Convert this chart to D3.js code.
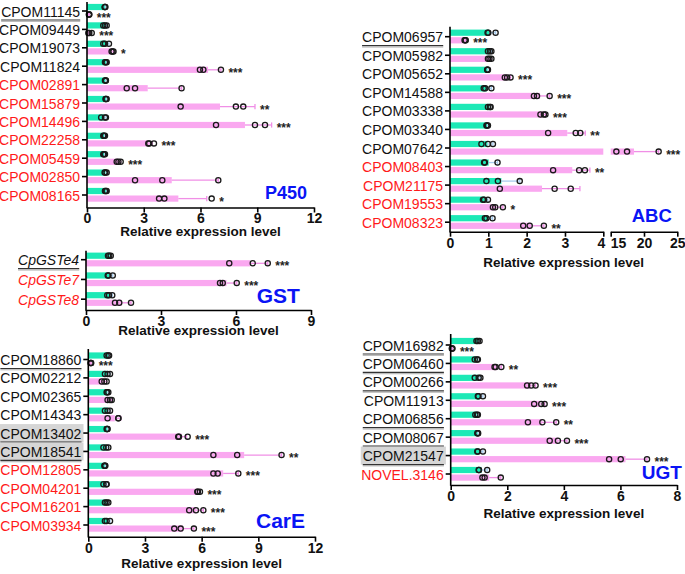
<!DOCTYPE html>
<html><head><meta charset="utf-8">
<script src="https://cdn.jsdelivr.net/npm/d3@7"></script>
<style>body{margin:0;background:#fff} text{font-family:Arial,"Liberation Sans",sans-serif}</style>
</head><body><svg id="c" width="685" height="574"></svg>
<script>
// ---------------- DATA ----------------
// P450
const p450Genes = ["CPOM11145","CPOM09449","CPOM19073","CPOM11824","CPOM02891","CPOM15879","CPOM14496","CPOM22258","CPOM05459","CPOM02850","CPOM08165"];
const p450Ctrl = [0.96,0.95,0.99,1.0,0.98,1.0,0.9,0.9,0.9,0.98,1.0];
const p450CtrlPts = [[0.93,0.95,0.97],[0.86,0.95,1.04],[0.86,0.95,1.16],[0.95,1.0,1.04],[0.95,0.99,1.0],[0.98,1.0,1.04],[0.75,0.95,1.0],[0.86,0.9,0.95],[0.86,0.9,0.95],[0.93,0.97,1.04],[0.95,1.0,1.04]];
const p450Trt = [0.11,0.15,1.35,6.4,3.21,7.03,8.35,3.3,1.67,4.48,4.83];
const p450TrtPts = [[0.1,0.11,0.12],[0.07,0.12,0.25],[1.3,1.35,1.4],[5.97,6.15,7.08],[2.1,2.54,5.0],[4.95,7.87,8.26],[6.82,8.88,9.41],[3.24,3.29,3.54],[1.57,1.66,1.78],[2.54,3.98,6.94],[3.81,4.09,6.59]];
const p450TrtErr = [0.12,0.2,1.4,7.08,5.0,8.88,9.76,3.45,1.78,6.94,6.33];
const p450Sig = ["***","***","*","***","","**","***","***","***","","*"];

// ABC
const abcGenes = ["CPOM06957","CPOM05982","CPOM05652","CPOM14588","CPOM03338","CPOM03340","CPOM07642","CPOM08403","CPOM21175","CPOM19553","CPOM08323"];
const abcCtrl = [1.02,1.03,0.98,0.96,1.03,0.97,0.98,1.01,1.34,0.91,0.99];
const abcCtrlErr = [1.19,1.08,0.99,1.08,1.06,0.99,1.12,1.24,1.82,0.99,1.11];
const abcCtrlPts = [[0.98,1.0,1.19],[0.99,1.04,1.08],[0.97,0.98,0.99],[0.88,0.92,1.08],[0.99,1.04,1.06],[0.95,0.97,0.99],[0.82,0.99,1.12],[0.89,0.91,1.24],[0.95,1.25,1.82],[0.86,0.89,0.99],[0.91,0.95,1.11]];
const abcTrt = [0.4,1.03,1.5,2.35,2.43,3.06,18.5,3.19,2.4,1.2,2.12];
const abcTrtPts = [[0.38,0.4,0.41],[0.99,1.03,1.08],[1.43,1.49,1.58],[2.19,2.27,2.6],[2.36,2.45,2.49],[2.56,3.28,3.4],[15.85,17.45,22.2],[2.69,3.37,3.52],[1.3,2.73,3.15],[1.12,1.18,1.38],[1.91,2.08,2.45]];
const abcTrtErr = [0.41,1.08,1.58,2.6,2.49,3.53,22.2,3.65,3.39,1.38,2.45];
const abcSig = ["***","","***","***","***","**","***","**","","*","**"];

// GST
const gstGenes = ["CpGSTe4","CpGSTe7","CpGSTe8"];
const gstCtrl = [0.95,0.95,0.94];
const gstCtrlPts = [[0.88,0.93,0.99],[0.87,0.9,1.07],[0.85,0.92,1.05]];
const gstTrt = [6.56,5.62,1.43];
const gstTrtPts = [[5.73,6.67,7.27],[5.36,5.47,6.03],[1.16,1.33,1.8]];
const gstTrtErr = [7.27,6.03,1.8];
const gstSig = ["***","***",""];

// CarE
const careGenes = ["CPOM18860","CPOM02212","CPOM02365","CPOM14343","CPOM13402","CPOM18541","CPOM12805","CPOM04201","CPOM16201","CPOM03934"];
const careCtrl = [1.04,1.02,1.01,1.02,1.0,0.94,0.88,0.9,0.97,1.0];
const careCtrlPts = [[0.97,1.06,1.1],[0.88,1.02,1.15],[0.97,1.0,1.06],[0.88,1.02,1.15],[0.97,1.0,1.02],[0.8,0.95,1.06],[0.85,0.88,0.9],[0.8,0.95,0.97],[0.88,0.97,1.06],[0.88,0.97,1.15]];
const careTrt = [0.14,0.84,1.14,1.4,4.94,8.25,7.14,5.83,5.71,5.01];
const careTrtPts = [[0.12,0.14,0.15],[0.71,0.85,0.97],[1.02,1.15,1.24],[1.02,1.59,1.59],[4.76,4.8,5.26],[6.62,7.88,10.23],[6.62,6.85,7.94],[5.77,5.8,5.91],[5.34,5.7,6.09],[4.55,4.89,5.59]];
const careTrtErr = [0.15,0.97,1.24,1.72,5.2,10.23,7.94,5.91,6.09,5.59];
const careSig = ["***","","","","***","**","***","***","***","***"];

// UGT
const ugtGenes = ["CPOM16982","CPOM06460","CPOM00266","CPOM11913","CPOM06856","CPOM08067","CPOM21547","NOVEL.3146"];
const ugtCtrl = [0.96,0.91,0.96,1.03,0.92,0.96,1.01,1.09];
const ugtCtrlPts = [[0.91,0.96,1.02],[0.85,0.93,0.96],[0.85,0.99,1.05],[0.96,0.98,1.14],[0.87,0.93,0.96],[0.94,0.96,0.97],[0.94,0.96,1.14],[0.99,1.0,1.29]];
const ugtTrt = [0.05,1.64,2.85,3.16,3.23,3.8,6.18,1.36];
const ugtTrtPts = [[0.04,0.05,0.06],[1.55,1.59,1.79],[2.7,2.85,3.0],[2.95,3.2,3.32],[2.73,3.24,3.73],[3.5,3.79,4.11],[5.6,6.01,6.94],[1.12,1.2,1.77]];
const ugtTrtErr = [0.06,1.79,3.0,3.32,3.73,4.11,6.94,1.77];
const ugtSig = ["***","**","***","***","**","***","***",""];

// gene categories (label groups)
const redGenes = ["CPOM02891","CPOM15879","CPOM14496","CPOM22258","CPOM05459","CPOM02850","CPOM08165",
  "CPOM08403","CPOM21175","CPOM19553","CPOM08323","CpGSTe7","CpGSTe8",
  "CPOM12805","CPOM04201","CPOM16201","CPOM03934","NOVEL.3146"];
const underlinedGenes = ["CPOM11145","CPOM06957","CpGSTe4","CPOM18860","CPOM13402","CPOM18541",
  "CPOM16982","CPOM06460","CPOM00266","CPOM06856","CPOM08067","CPOM21547"];
const boxedGenes = ["CPOM13402","CPOM18541","CPOM21547"];

// ---------------- DRAW ----------------
const C_TEAL="#1DE9B6", C_PINK="#FAA8F0", C_PINK_ERR="#F08FE6", C_TEAL_ERR="#A8CDEE";
const C_RED="#FF1A1A", C_BLUE="#0A14F5";
const svg = d3.select("#c");

function linearX(r0,r1,dmax){
  const s = d3.scaleLinear().domain([0,dmax]).range([r0,r1]);
  return {pos:v=>s(v), segs:v=>[[s(0),s(v)]], axes:[{scale:s}], x0:r0, mid:(r0+r1)/2};
}
function brokenX(a0,a1,amax,b0,b1,bmin,bmax){
  const s1 = d3.scaleLinear().domain([0,amax]).range([a0,a1]);
  const s2 = d3.scaleLinear().domain([bmin,bmax]).range([b0,b1]);
  return {
    pos:v=> v<=amax ? s1(v) : s2(Math.max(v,bmin)),
    segs:v=> v<=amax ? [[s1(0),s1(v)]] : [[s1(0),s1(amax)],[s2(bmin),s2(v)]],
    axes:[{scale:s1, lastAnchor:"end"},{scale:s2, firstAnchor:"start"}], x0:a0, mid:(a0+b1)/2
  };
}

function drawPanel(o){
  const g = svg.append("g");
  const y = d3.scalePoint().domain(o.genes).range([o.yFirst,o.yLast]);
  const X = o.x;
  const bh = 6.2;
  o.genes.forEach((gene,i)=>{
    const c = y(gene);
    const tc = c-4, pc = c+3.6; // teal & pink centres
    X.segs(o.ctrl[i]).forEach(s=>g.append("rect").attr("x",s[0]).attr("y",tc-bh/2).attr("width",s[1]-s[0]).attr("height",bh).attr("fill",C_TEAL));
    X.segs(o.trt[i]).forEach(s=>g.append("rect").attr("x",s[0]).attr("y",pc-bh/2).attr("width",s[1]-s[0]).attr("height",bh).attr("fill",C_PINK));
    // error bars
    const ce = o.ctrlErr ? o.ctrlErr[i] : d3.max(o.ctrlPts[i]);
    [[o.ctrl[i],ce,tc,C_TEAL_ERR],[o.trt[i],o.trtErr[i],pc,C_PINK_ERR]].forEach(([m,e,cy,col])=>{
      if (e>m){
        g.append("line").attr("x1",X.pos(m)).attr("x2",X.pos(e)).attr("y1",cy).attr("y2",cy).attr("stroke",col).attr("stroke-width",1.3);
        g.append("line").attr("x1",X.pos(e)).attr("x2",X.pos(e)).attr("y1",cy-2.6).attr("y2",cy+2.6).attr("stroke",col).attr("stroke-width",1.3);
      }
    });
    // points
    o.ctrlPts[i].forEach(v=>g.append("circle").attr("cx",X.pos(v)).attr("cy",tc).attr("r",2.6).attr("fill","none").attr("stroke","#1a1a1a").attr("stroke-width",1.3));
    o.trtPts[i].forEach(v=>g.append("circle").attr("cx",X.pos(v)).attr("cy",pc).attr("r",2.6).attr("fill","none").attr("stroke","#1a1a1a").attr("stroke-width",1.3));
    // significance
    if (o.sig[i]){
      const xm = Math.max(X.pos(d3.max(o.trtPts[i]))+2.5, X.pos(o.trtErr[i]));
      g.append("text").attr("x",xm+5).attr("y",pc+7).attr("font-size",12).attr("font-weight","bold").attr("fill","#222").text(o.sig[i]);
    }
    // label
    const isBox = boxedGenes.includes(gene), isU = underlinedGenes.includes(gene);
    const lg = g.append("g");
    const t = lg.append("text").attr("x",X.x0-7).attr("y",c+5.5).attr("text-anchor","end").attr("font-size",14)
      .attr("font-style",o.italic?"italic":"normal")
      .attr("fill",redGenes.includes(gene)?C_RED:"#111").text(gene);
    const bb = t.node().getBBox();
    if (isBox) lg.insert("rect","text").attr("x",bb.x-2).attr("y",c-9).attr("width",bb.width+4).attr("height",18).attr("fill","#d6d6d6");
    if (isU){
      lg.append("line").attr("x1",bb.x).attr("x2",bb.x+bb.width).attr("y1",c+9).attr("y2",c+9).attr("stroke","#333").attr("stroke-width",1.2);
      lg.append("line").attr("x1",bb.x).attr("x2",bb.x+bb.width).attr("y1",c+10.3).attr("y2",c+10.3).attr("stroke","#aaa").attr("stroke-width",1);
    }
    // y tick
    g.append("line").attr("x1",X.x0-5).attr("x2",X.x0).attr("y1",c).attr("y2",c).attr("stroke","#000").attr("stroke-width",1.6);
  });
  // y axis line
  g.append("line").attr("x1",X.x0).attr("x2",X.x0).attr("y1",o.axisTop).attr("y2",o.axisBottom+0.8).attr("stroke","#000").attr("stroke-width",1.6);
  // x axes
  X.axes.forEach((a,k)=>{
    const ax = g.append("g").attr("transform",`translate(0,${o.axisBottom})`)
      .call(d3.axisBottom(a.scale).tickValues(o.ticks[k]).tickSize(5).tickSizeOuter(0).tickPadding(1).tickFormat(d3.format("d")));
    ax.select(".domain").attr("stroke","#000").attr("stroke-width",1.6);
    ax.selectAll(".tick line").attr("stroke","#000").attr("stroke-width",1.6);
    const tx = ax.selectAll(".tick text").attr("font-size",14).attr("font-weight","bold").attr("fill","#111").attr("font-family","Arial, 'Liberation Sans', sans-serif");
    const n = o.ticks[k].length;
    if (a.lastAnchor) tx.filter((d,j)=>j===n-1).attr("text-anchor",a.lastAnchor).attr("x",1.5);
    if (a.firstAnchor) tx.filter((d,j)=>j===0).attr("text-anchor",a.firstAnchor).attr("x",-0.5);
  });
  g.append("text").attr("x",X.mid).attr("y",o.axisBottom+o.titleDy).attr("text-anchor","middle")
    .attr("font-size",13.5).attr("font-weight","bold").attr("fill","#111").text("Relative expression level");
  g.append("text").attr("x",o.title[1]).attr("y",o.title[2]).attr("font-size",o.title[3]).attr("font-weight","bold").attr("fill",C_BLUE).text(o.title[0]);
}

drawPanel({genes:p450Genes, ctrl:p450Ctrl, ctrlPts:p450CtrlPts, trt:p450Trt, trtPts:p450TrtPts, trtErr:p450TrtErr, sig:p450Sig,
  x:linearX(87,314,12), ticks:[[0,3,6,9,12]], yFirst:11, yLast:195, axisTop:2, axisBottom:207.5, titleDy:28, title:["P450",265,199.3,18]});
drawPanel({genes:abcGenes, ctrl:abcCtrl, ctrlErr:abcCtrlErr, ctrlPts:abcCtrlPts, trt:abcTrt, trtPts:abcTrtPts, trtErr:abcTrtErr, sig:abcSig,
  x:brokenX(450,603.3,4,610.7,677.3,15,25), ticks:[[0,1,2,3,4],[15,20,25]], yFirst:36.7, yLast:222.2, axisTop:26.7, axisBottom:231.7, titleDy:35, title:["ABC",631.7,222.3,18.5]});
drawPanel({genes:gstGenes, ctrl:gstCtrl, ctrlPts:gstCtrlPts, trt:gstTrt, trtPts:gstTrtPts, trtErr:gstTrtErr, sig:gstSig, italic:true,
  x:linearX(86,311,9), ticks:[[0,3,6,9]], yFirst:259.7, yLast:299.2, axisTop:250.7, axisBottom:310, titleDy:25, title:["GST",256.7,302.7,21]});
drawPanel({genes:careGenes, ctrl:careCtrl, ctrlPts:careCtrlPts, trt:careTrt, trtPts:careTrtPts, trtErr:careTrtErr, sig:careSig,
  x:linearX(88.3,315,12), ticks:[[0,3,6,9,12]], yFirst:359.5, yLast:525, axisTop:349, axisBottom:536.7, titleDy:31, title:["CarE",256,527.7,21]});
drawPanel({genes:ugtGenes, ctrl:ugtCtrl, ctrlPts:ugtCtrlPts, trt:ugtTrt, trtPts:ugtTrtPts, trtErr:ugtTrtErr, sig:ugtSig,
  x:linearX(450.7,677,8), ticks:[[0,2,4,6,8]], yFirst:345, yLast:474, axisTop:334, axisBottom:485, titleDy:33, title:["UGT",641.7,479.3,19]});
</script></body></html>
